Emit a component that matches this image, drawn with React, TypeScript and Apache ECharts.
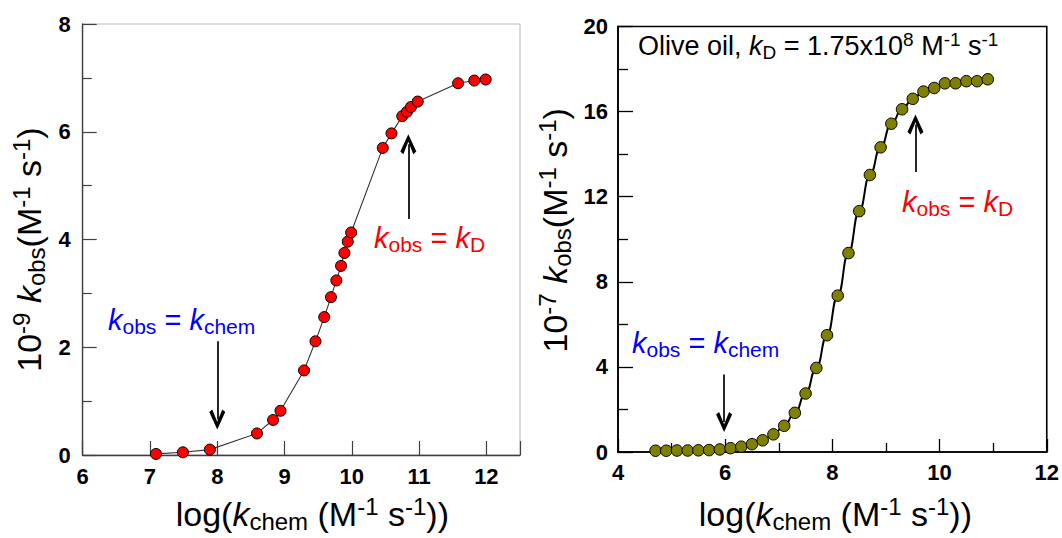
import React, { useEffect, useRef } from 'react';
import * as echarts from 'echarts';

// ---------- data ----------
const leftLogKchem = [7.09, 7.49, 7.89, 8.59, 8.83, 8.94, 9.29, 9.46, 9.59, 9.69, 9.77, 9.84, 9.89, 9.94, 9.99, 10.46, 10.59, 10.75, 10.82, 10.88, 10.98, 11.58, 11.82, 11.99];
const leftKobs = [0.02, 0.05, 0.1, 0.4, 0.65, 0.82, 1.57, 2.11, 2.56, 2.93, 3.24, 3.51, 3.75, 3.96, 4.13, 5.7, 5.97, 6.29, 6.37, 6.46, 6.56, 6.9, 6.95, 6.97];

const rightLogKchem = [4.7, 4.9, 5.1, 5.3, 5.5, 5.7, 5.9, 6.1, 6.3, 6.5, 6.7, 6.9, 7.1, 7.3, 7.5, 7.7, 7.9, 8.1, 8.3, 8.5, 8.7, 8.9, 9.1, 9.3, 9.5, 9.7, 9.9, 10.1, 10.3, 10.5, 10.7, 10.9];
const rightKobs = [0.06, 0.06, 0.07, 0.07, 0.08, 0.09, 0.12, 0.18, 0.25, 0.37, 0.55, 0.83, 1.23, 1.84, 2.75, 3.95, 5.49, 7.35, 9.35, 11.32, 13.02, 14.32, 15.43, 16.11, 16.6, 16.94, 17.11, 17.33, 17.33, 17.43, 17.43, 17.52];

// arrows: [x, yStart, yEnd(head centre)]
const leftArrows = [
  [8.0, 2.11, 0.66],
  [10.84, 4.38, 5.77],
];
const rightArrows = [
  [5.98, 3.64, 1.41],
  [9.55, 13.16, 15.39],
];

const FONT = '"Liberation Sans", Arial, sans-serif';
const ARROW = 'path://M8,0 L16,17 L13,19.5 L8,7.5 L3,19.5 L0,17 Z';

const titleRich = {
  n: { fontSize: 34, lineHeight: 39, fontFamily: FONT, color: '#000' },
  i: { fontSize: 34, lineHeight: 39, fontFamily: FONT, fontStyle: 'italic', color: '#000' },
  sub: { fontSize: 24, lineHeight: 28, fontFamily: FONT, verticalAlign: 'bottom', color: '#000' },
  sup: { fontSize: 24, lineHeight: 28, fontFamily: FONT, verticalAlign: 'top', color: '#000' },
};

const makeRich = (size: number, small: number, color: string) => ({
  n: { fontSize: size, lineHeight: size + 5, fontFamily: FONT, fill: color },
  i: { fontSize: size, lineHeight: size + 5, fontFamily: FONT, fontStyle: 'italic', fill: color },
  sub: { fontSize: small, lineHeight: small + 3, fontFamily: FONT, verticalAlign: 'bottom', fill: color },
  sup: { fontSize: small, lineHeight: small + 3, fontFamily: FONT, verticalAlign: 'top', fill: color },
});

const tickLabel = { fontSize: 22, fontWeight: 'bold' as const, fontFamily: FONT, color: '#000' };

const arrowMarkLine = (arrows: number[][]) => ({
  silent: true,
  symbol: ['none', ARROW],
  symbolSize: [16, 20],
  lineStyle: { color: '#000', width: 1.7, type: 'solid' as const },
  label: { show: false },
  data: arrows.map(([x, y0, y1]) => [{ coord: [x, y0] }, { coord: [x, y1] }]),
});

const xTitle = '{n|log(}{i|k}{sub|chem}{n| (M}{sup|-1}{n| s}{sup|-1}{n|))}';

const option = {
  animation: false,
  backgroundColor: '#fff',
  grid: [
    { left: 82.7, top: 24, width: 437.3, height: 437.3, show: true, borderColor: '#b8b8b8', borderWidth: 1, containLabel: false },
    { left: 618, top: 26.5, width: 431, height: 431.2, show: true, borderColor: '#000', borderWidth: 1.6, containLabel: false },
  ],
  xAxis: [
    {
      gridIndex: 0, type: 'value', min: 6, max: 12.5, interval: 1,
      axisLine: { lineStyle: { color: '#404040', width: 1.4 } },
      axisTick: { inside: true, length: 14, lineStyle: { color: '#404040', width: 1.2 } },
      axisLabel: { ...tickLabel, margin: 10, formatter: (v: number) => (Number.isInteger(v) ? String(v) : '') },
      splitLine: { show: false },
      name: xTitle, nameLocation: 'middle', nameGap: 39,
      nameTextStyle: { rich: titleRich, padding: [0, 0, 0, 22] },
    },
    {
      gridIndex: 1, type: 'value', min: 4, max: 12, interval: 2,
      axisLine: { lineStyle: { color: '#000', width: 1.6 } },
      axisTick: { inside: true, length: 13, lineStyle: { color: '#000', width: 1.3 } },
      minorTick: { show: true, splitNumber: 2, length: 9, lineStyle: { color: '#000', width: 1.3 } },
      axisLabel: { ...tickLabel, margin: 9 },
      splitLine: { show: false },
      name: xTitle, nameLocation: 'middle', nameGap: 42,
      nameTextStyle: { rich: titleRich, padding: [0, 0, 0, 6] },
    },
  ],
  yAxis: [
    {
      gridIndex: 0, type: 'value', min: 0, max: 8, interval: 2,
      axisLine: { show: true, lineStyle: { color: '#404040', width: 1.4 } },
      axisTick: { show: true, inside: true, length: 14, lineStyle: { color: '#404040', width: 1.2 } },
      minorTick: { show: true, splitNumber: 2, length: 9, lineStyle: { color: '#404040', width: 1.2 } },
      axisLabel: { ...tickLabel, margin: 12 },
      splitLine: { show: false },
      name: '{n|10}{sup|-9}{n| }{i|k}{sub|obs}{n|(M}{sup|-1}{n| s}{sup|-1}{n|)}',
      nameLocation: 'middle', nameRotate: 90, nameGap: 34,
      nameTextStyle: { rich: titleRich, padding: [0, 20, 0, 0] },
    },
    {
      gridIndex: 1, type: 'value', min: 0, max: 20, interval: 4,
      axisLine: { show: true, lineStyle: { color: '#000', width: 1.6 } },
      axisTick: { show: true, inside: true, length: 15, lineStyle: { color: '#000', width: 1.3 } },
      minorTick: { show: true, splitNumber: 2, length: 10, lineStyle: { color: '#000', width: 1.3 } },
      axisLabel: { ...tickLabel, margin: 10 },
      splitLine: { show: false },
      name: '{n|10}{sup|-7}{n| }{i|k}{sub|obs}{n|(M}{sup|-1}{n| s}{sup|-1}{n|)}',
      nameLocation: 'middle', nameRotate: 90, nameGap: 44,
      nameTextStyle: { rich: titleRich, padding: [0, 0, 0, 18] },
    },
  ],
  series: [
    {
      type: 'line', xAxisIndex: 0, yAxisIndex: 0,
      data: leftLogKchem.map((x, i) => [x, leftKobs[i]]),
      symbol: 'circle', symbolSize: 11,
      lineStyle: { color: '#333', width: 1.1 },
      itemStyle: { color: '#ff0000', borderColor: '#000', borderWidth: 1 },
      markLine: arrowMarkLine(leftArrows),
    },
    {
      type: 'line', xAxisIndex: 1, yAxisIndex: 1,
      data: rightLogKchem.map((x, i) => [x, rightKobs[i]]),
      smooth: true, smoothMonotone: 'x',
      symbol: 'circle', symbolSize: 11.5,
      lineStyle: { color: '#000', width: 2 },
      itemStyle: { color: '#808000', borderColor: '#000', borderWidth: 1 },
      markLine: arrowMarkLine(rightArrows),
    },
  ],
  graphic: [
    {
      type: 'text', x: 108, y: 303, silent: true,
      style: { text: '{i|k}{sub|obs}{n| = }{i|k}{sub|chem}', rich: makeRich(29, 21, '#0000ff'), verticalAlign: 'top' },
    },
    {
      type: 'text', x: 374, y: 221, silent: true,
      style: { text: '{i|k}{sub|obs}{n| = }{i|k}{sub|D}', rich: makeRich(29, 21, '#ff0000'), verticalAlign: 'top' },
    },
    {
      type: 'text', x: 632, y: 326, silent: true,
      style: { text: '{i|k}{sub|obs}{n| = }{i|k}{sub|chem}', rich: makeRich(29, 21, '#0000ff'), verticalAlign: 'top' },
    },
    {
      type: 'text', x: 902, y: 185, silent: true,
      style: { text: '{i|k}{sub|obs}{n| = }{i|k}{sub|D}', rich: makeRich(29, 21, '#ff0000'), verticalAlign: 'top' },
    },
    {
      type: 'text', x: 638, y: 30, silent: true,
      style: {
        text: '{n|Olive oil, }{i|k}{sub|D}{n| = 1.75x10}{sup|8}{n| M}{sup|-1}{n| s}{sup|-1}',
        rich: makeRich(27, 19, '#000'), verticalAlign: 'top',
      },
    },
  ],
};

export default function App() {
  const ref = useRef<HTMLDivElement>(null);
  useEffect(() => {
    const chart = echarts.init(ref.current!, null, { renderer: 'svg' });
    chart.setOption(option as any);
    return () => chart.dispose();
  }, []);
  return (
    <div
      ref={ref}
      style={{ position: 'absolute', left: 0, top: 0, width: 1062, height: 538, background: '#fff' }}
    />
  );
}
